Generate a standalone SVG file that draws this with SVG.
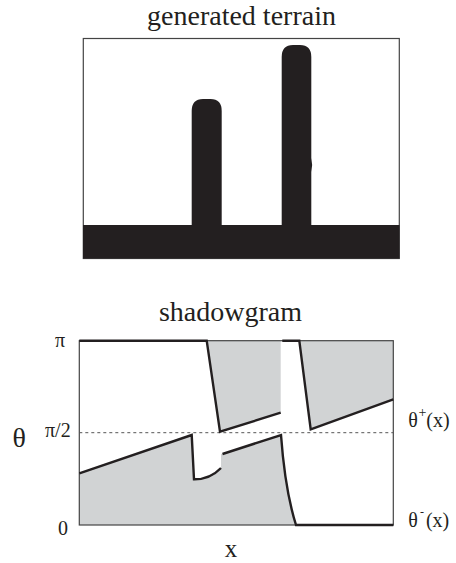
<svg xmlns="http://www.w3.org/2000/svg" width="456" height="563" viewBox="0 0 456 563">
<style>
text{font-family:"Liberation Serif","Times New Roman",serif;fill:#231f20}
.frame{fill:none;stroke:#444;stroke-width:1.2}
.ink{fill:#231f20}
.shade{fill:#d1d3d4;stroke:none}
.thick{fill:none;stroke:#231f20;stroke-width:2.4;stroke-linejoin:miter}
.dash{fill:none;stroke:#555;stroke-width:1;stroke-dasharray:3 3}
</style>
<rect width="456" height="563" fill="#fff"/>
<g id="terrain">
<text x="241.5" y="25" font-size="28" text-anchor="middle">generated terrain</text>
<rect class="frame" x="83.3" y="38.5" width="316" height="220"/>
<rect class="ink" x="83" y="225" width="316.5" height="33.5"/>
<path class="ink" d="M191.7,226 V111 Q191.7,99 203,99 H210.5 Q221.7,99 221.7,111 V226 Z"/>
<path class="ink" d="M281.7,226 V57 Q281.7,45 293,45 H300 Q311.3,45 311.3,57 V158 Q313,165 311.3,172 V226 Z"/>
</g>
<g id="shadowgram">
<text x="230.5" y="320.5" font-size="28" text-anchor="middle">shadowgram</text>
<path class="shade" d="M206.7,340.7 L220,431.7 L280.7,412.7 L280.7,340.7 Z"/>
<path class="shade" d="M299.3,340.7 L310.7,429.3 L393.3,399.3 L393.3,340.7 Z"/>
<path class="shade" d="M79.3,473.3 L191.7,435 L194,479.3 Q210,479.5 221,468 L221,454 L281,435 Q285,490 296,525 L79.3,525 Z"/>
<rect class="frame" x="79.3" y="340.7" width="314" height="184.3"/>
<line class="dash" x1="79.3" y1="432.7" x2="393.3" y2="432.7"/>
</g>
<g id="connectors">
<path class="thick" d="M79.3,340.7 H206.7 L220,431.7 L280.7,412.7"/>
<path class="thick" d="M282.3,340.7 H299.3 L310.7,429.3 L393.3,399.3"/>
<path class="thick" d="M79.3,473.3 L191.7,435 L194,479.3 Q210,479.5 221,468"/>
<path class="thick" d="M222.5,454 L281,435 Q285,490 296,525 H393.3"/>
</g>
<g id="labels">
<text x="55" y="346.7" font-size="20">π</text>
<text x="45" y="436.7" font-size="20">π/2</text>
<text x="58" y="535" font-size="20">0</text>
<text x="12.5" y="446.5" font-size="28">θ</text>
<text x="408.3" y="427.3" font-size="20">θ<tspan dx="0.5" dy="-10" font-size="14">+</tspan><tspan dy="10">(x)</tspan></text>
<text x="408.3" y="527.3" font-size="20">θ<tspan dx="2" dy="-11" font-size="12">-</tspan><tspan dx="2" dy="11">(x)</tspan></text>
<text x="231" y="556.7" font-size="25" text-anchor="middle">x</text>
</g>
</svg>
